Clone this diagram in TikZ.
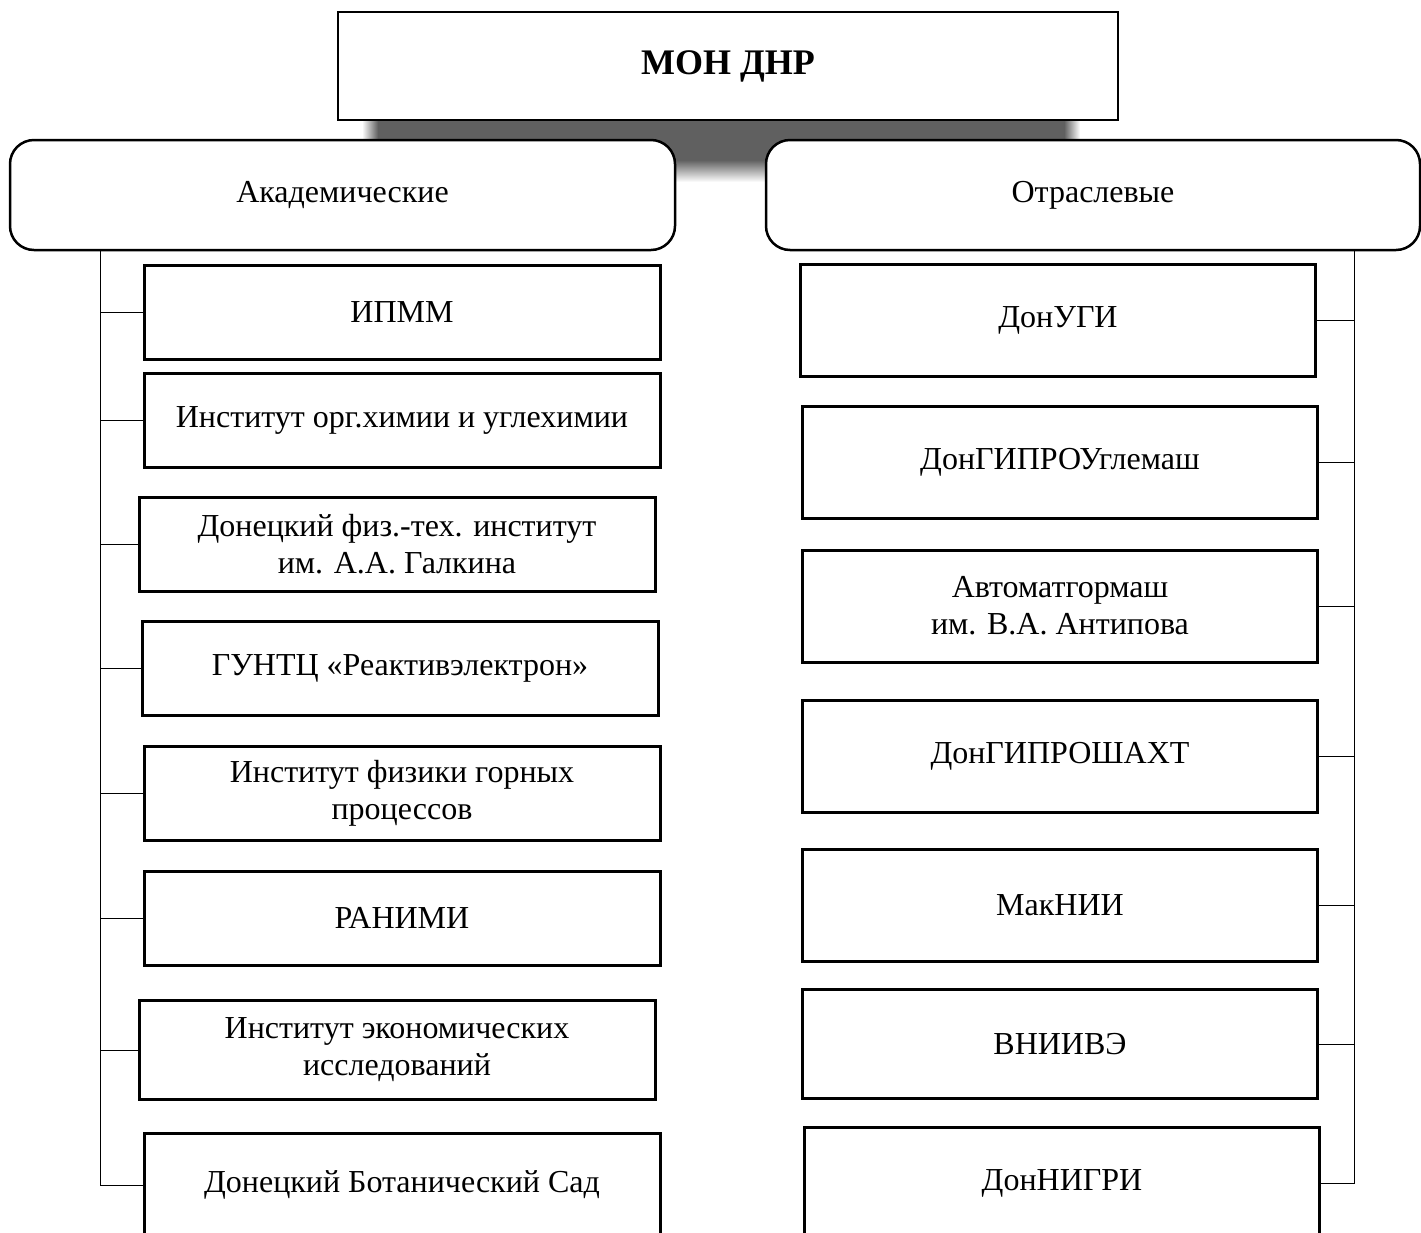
\documentclass[tikz,border=0pt]{standalone}
\usepackage{fontspec}
\setmainfont{Liberation Serif}
\definecolor{shadowgray}{RGB}{96,96,96}
\begin{document}
\begin{tikzpicture}[x=1pt,y=-1pt,
    orgbox/.style={draw=black,line width=3pt,fill=white,minimum width=516pt,
                   minimum height=94pt,align=center,inner sep=0pt,
                   font=\fontsize{32}{37}\selectfont},
    rightbox/.style={orgbox,minimum width=515pt,minimum height=112pt},
    groupbox/.style={draw=black,line width=2.5pt,fill=white,rounded corners=24pt,
                     minimum width=#1,minimum height=110pt,
                     font=\fontsize{32}{37}\selectfont},
    headbox/.style={draw=black,line width=2.5pt,fill=white,minimum width=780pt,
                    minimum height=108pt,font=\fontsize{36}{40}\selectfont\bfseries},
    link/.style={draw=black,line width=1pt}
]
\useasboundingbox (0,0) rectangle (1421,1232);
\clip (0,0) rectangle (1421,1232);

% shadow under the top box
\fill[shadowgray] (378,120) rectangle (1064,160);
\shade[left color=white,right color=shadowgray] (362,120) rectangle (378,160);
\shade[left color=shadowgray,right color=white] (1064,120) rectangle (1080,160);
\shade[top color=shadowgray,bottom color=white] (378,160) rectangle (1064,182);

\node[headbox] (mon) at (728,66) {МОН ДНР};

\node[groupbox=665pt] (acad) at (342.5,195) {Академические};
\node[groupbox=654pt] (otr) at (1093,195) {Отраслевые};

% academic institutes
\node[orgbox] (a1) at (402,312) {ИПММ};
\node[orgbox] (a2) at (402,420) {Институт орг.химии и углехимии};
\node[orgbox] (a3) at (397,544) {Донецкий физ.-тех. институт\\им. А.А. Галкина};
\node[orgbox] (a4) at (400,668) {ГУНТЦ «Реактивэлектрон»};
\node[orgbox] (a5) at (402,793) {Институт физики горных\\процессов};
\node[orgbox] (a6) at (402,918) {РАНИМИ};
\node[orgbox,minimum height=99pt] (a7) at (397,1050) {Институт экономических\\исследований};
\node[orgbox,minimum height=104pt] (a8) at (402,1185) {Донецкий Ботанический Сад};

% branch institutes
\node[rightbox] (b1) at (1058,320) {ДонУГИ};
\node[rightbox] (b2) at (1060,462) {ДонГИПРОУглемаш};
\node[rightbox] (b3) at (1060,606) {Автоматгормаш\\им. В.А. Антипова};
\node[rightbox] (b4) at (1060,756) {ДонГИПРОШАХТ};
\node[rightbox] (b5) at (1060,905) {МакНИИ};
\node[rightbox,minimum height=109pt] (b6) at (1060,1044) {ВНИИВЭ};
\node[rightbox] (b7) at (1062,1183) {ДонНИГРИ};

% connectors
\coordinate (lbus) at (100,0);
\coordinate (rbus) at (1354,0);
\draw[link] (acad.south -| lbus) -- (lbus |- a8.west) -- (a8.west);
\foreach \i in {1,...,7}{
  \draw[link] (lbus |- a\i.west) -- (a\i.west);
}
\draw[link] (otr.south -| rbus) -- (rbus |- b7.east) -- (b7.east);
\foreach \i in {1,...,6}{
  \draw[link] (rbus |- b\i.east) -- (b\i.east);
}

\end{tikzpicture}
\end{document}
